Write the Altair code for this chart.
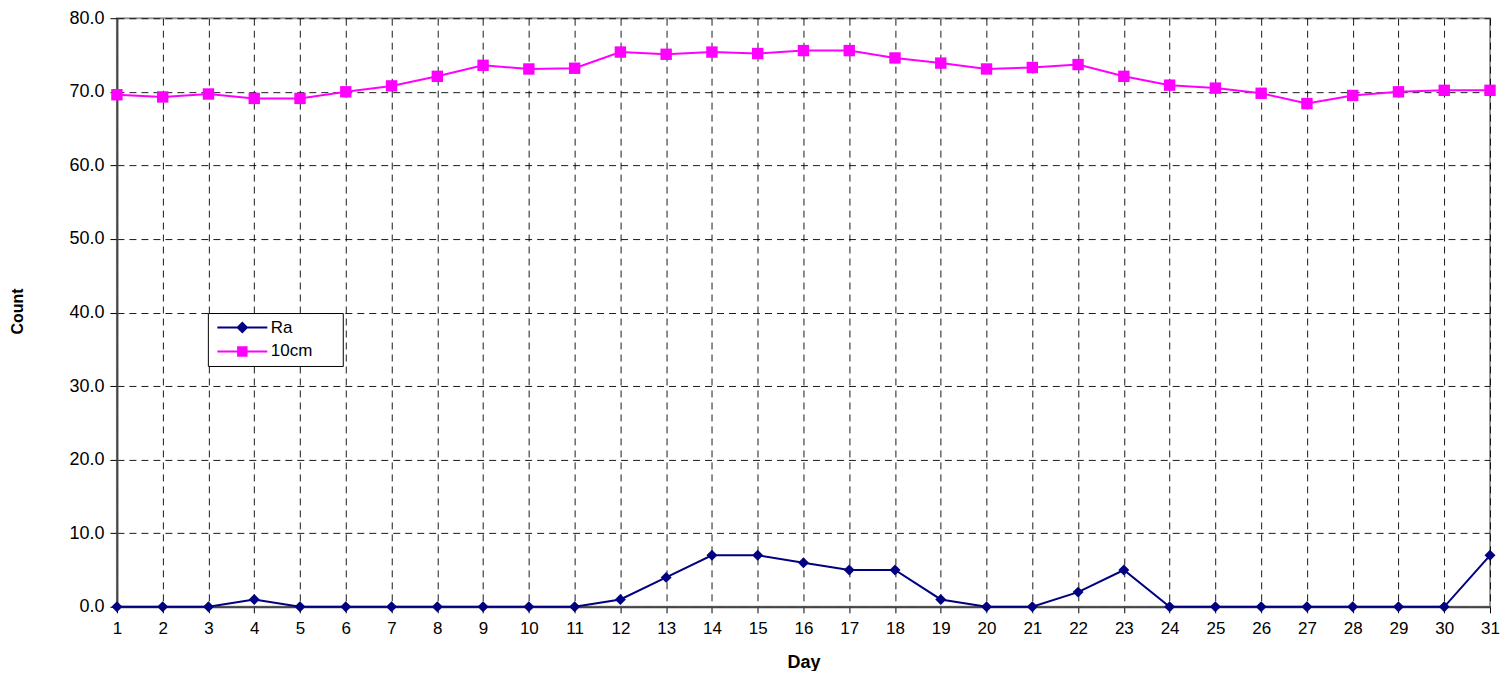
import altair as alt
import pandas as pd

days = list(range(1, 32))
ra = [0, 0, 0, 1, 0, 0, 0, 0, 0, 0, 0, 1, 4, 7, 7, 6, 5, 5, 1, 0, 0, 2, 5, 0, 0, 0, 0, 0, 0, 0, 7]
cm10 = [69.6, 69.3, 69.7, 69.1, 69.1, 70.0, 70.8, 72.1, 73.6, 73.1, 73.2, 75.4, 75.1, 75.4, 75.2,
        75.6, 75.6, 74.6, 73.9, 73.1, 73.3, 73.7, 72.1, 70.9, 70.5, 69.8, 68.4, 69.5, 70.0, 70.2, 70.2]
series = ["Ra", "10cm"]
colors = ["#000080", "#FF00FF"]

df = pd.concat([
    pd.DataFrame({"Day": days, "Count": ra, "Series": "Ra"}),
    pd.DataFrame({"Day": days, "Count": cm10, "Series": "10cm"}),
])

FONT = "Arial, Liberation Sans"

ra_path = "M-5,-0.2L5,-0.2L5,0.2L-5,0.2Z M0,-1.2L1.2,0L0,1.2L-1.2,0Z"
sq_path = "M-5,-0.2L5,-0.2L5,0.2L-5,0.2Z M-1.05,-1.05L1.05,-1.05L1.05,1.05L-1.05,1.05Z"

color_scale = alt.Scale(domain=series, range=colors)

legend = alt.Legend(
    title=None, orient="none", legendX=91, legendY=295,
    direction="vertical",
    fillColor="white", strokeColor="black", padding=6,
    labelFont=FONT, labelFontSize=17, labelColor="black",
    labelExpr="datum.label == '10cm' ? '10cm\u00a0\u00a0\u00a0\u00a0\u00a0\u200b' : datum.label",
    symbolSize=100, symbolOffset=20, labelOffset=20, rowPadding=6,
    symbolOpacity=1, symbolStrokeWidth=0,
)

W = 1374
H = 589
x_enc = alt.X("Day:Q", scale=alt.Scale(domain=[1, 31], nice=False, zero=False),
              axis=alt.Axis(values=days, title="Day", grid=True, gridDash=[7, 5],
                            gridColor="#000000", gridOpacity=0.9, gridWidth=1,
                            domainColor="#444444", domainWidth=2,
                            tickColor="#000000", tickSize=6,
                            labelFont=FONT, labelFontSize=17, labelColor="black",
                            labelPadding=8, labelFlush=False,
                            titleFont=FONT, titleFontSize=18, titleFontWeight="bold",
                            titleColor="black", titleX=W / 2, titleY=56,
                            titleAlign="center", titleBaseline="middle"))
y_enc = alt.Y("Count:Q", scale=alt.Scale(domain=[0, 80], nice=False),
              axis=alt.Axis(values=list(range(0, 81, 10)), format=".1f", title="Count",
                            grid=True, gridDash=[7, 5], gridColor="#000000", gridOpacity=0.9,
                            domainColor="#444444", domainWidth=2,
                            tickColor="#000000", tickSize=7,
                            labelFont=FONT, labelFontSize=18, labelColor="black",
                            labelPadding=6,
                            titleFont=FONT, titleFontSize=16, titleFontWeight="bold",
                            titleColor="black", titleX=-99, titleY=293,
                            titleAlign="center", titleBaseline="middle", titleAngle=270))

base = alt.Chart(df)
line_ra = base.transform_filter(alt.datum.Series == "Ra").mark_line(
    strokeWidth=2, color=colors[0]).encode(x=x_enc, y=y_enc)
line_cm = base.transform_filter(alt.datum.Series == "10cm").mark_line(
    strokeWidth=2, color=colors[1]).encode(x="Day:Q", y="Count:Q")
pts_ra = base.transform_filter(alt.datum.Series == "Ra").mark_point(
    filled=True, opacity=1, size=120, shape="diamond", color=colors[0]
).encode(x="Day:Q", y="Count:Q")
pts_cm = base.transform_filter(alt.datum.Series == "10cm").mark_point(
    filled=True, opacity=1, size=130, shape="square", color=colors[1]
).encode(x="Day:Q", y="Count:Q")

leg = base.transform_filter("false").mark_point(filled=True, opacity=1).encode(
    x="Day:Q", y="Count:Q",
    color=alt.Color("Series:N", scale=color_scale, legend=legend),
    shape=alt.Shape("Series:N", scale=alt.Scale(domain=series, range=[ra_path, sq_path]), legend=legend),
)

chart = alt.layer(line_ra, line_cm, pts_ra, pts_cm, leg).properties(
    width=W, height=H,
    autosize=alt.AutoSizeParams(type="none"),
    padding={"left": 109, "top": 10, "right": 12, "bottom": 64},
    background="white",
).configure_view(stroke="#999999", strokeWidth=2)

chart.save("out.html", embed_options={"renderer": "svg", "actions": False})
